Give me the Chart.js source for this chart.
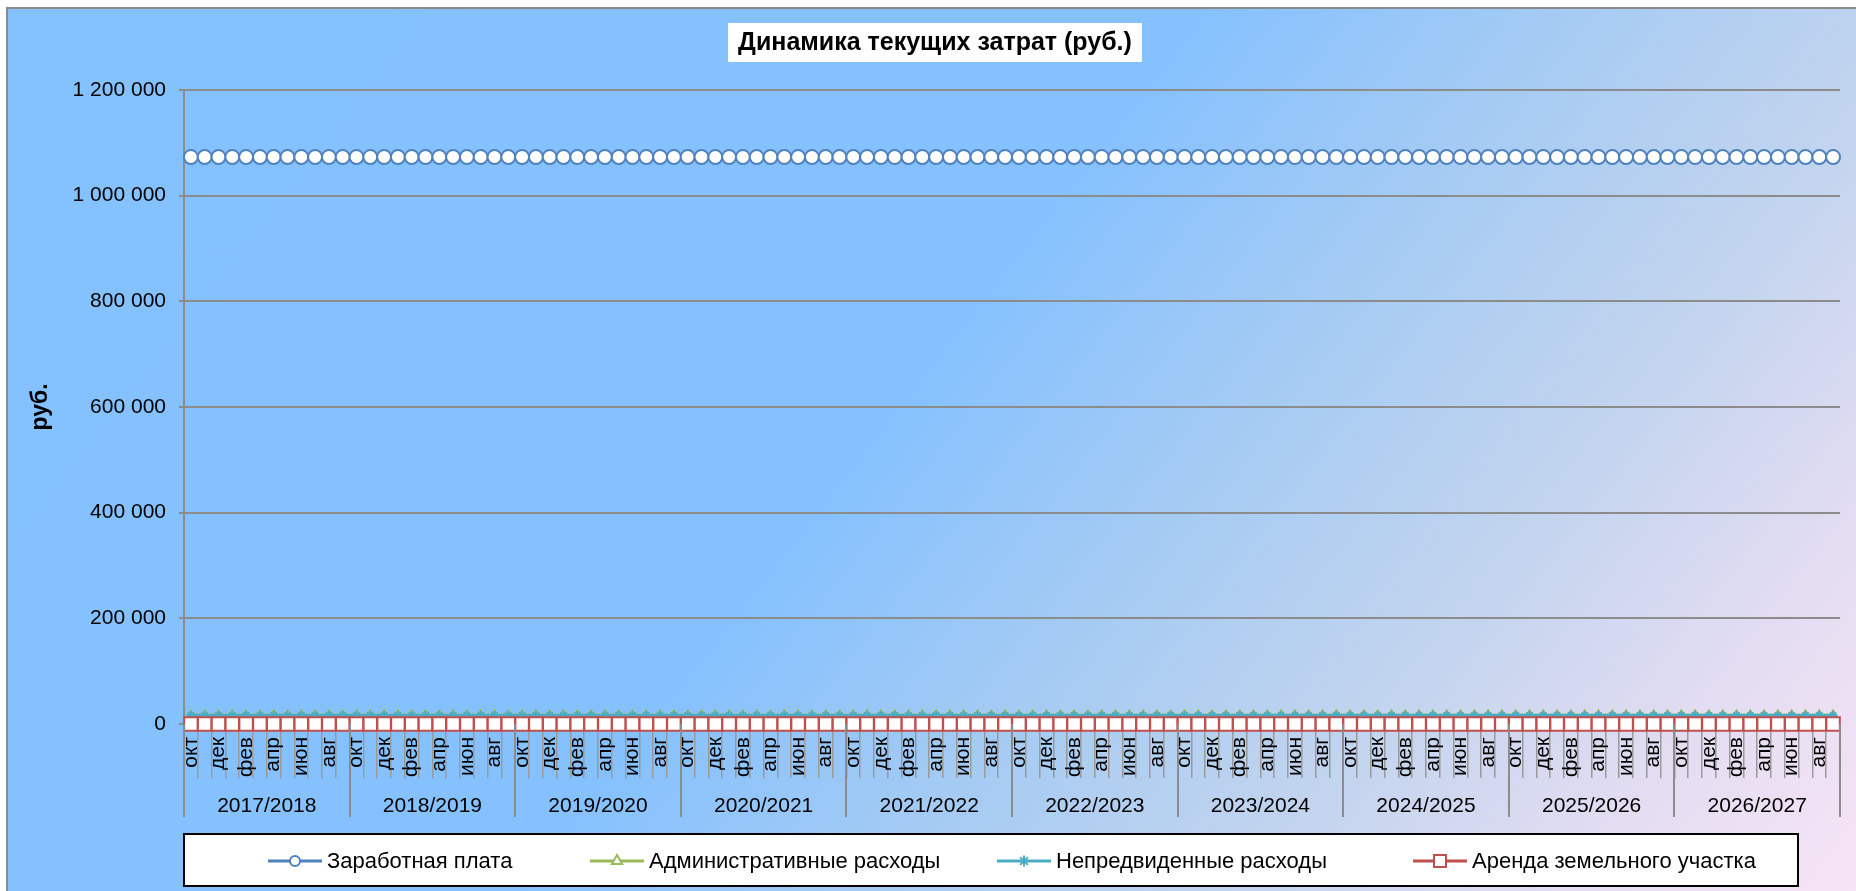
<!DOCTYPE html>
<html><head><meta charset="utf-8">
<script src="https://cdn.jsdelivr.net/npm/chart.js@4.4.0/dist/chart.umd.min.js"></script>
<style>
html,body{margin:0;padding:0;background:#fff;overflow:hidden;width:1856px;height:891px;}
#bg{position:absolute;left:6px;top:7px;width:1880px;height:920px;border:2px solid #8a8a8a;
 background:linear-gradient(128deg,#84c1ff 0%,#85c1fe 46%,#a5cbf3 60%,#c2d4ee 74%,#e4ddf2 87%,#fbe5f6 100%);}
#wrap{position:absolute;left:0;top:0;width:1856px;height:891px;}
</style></head><body>
<div id="bg"></div>
<div id="wrap"><canvas id="c" width="1856" height="891"></canvas></div>
<script>
const chartTitle = 'Динамика текущих затрат (руб.)';
const yAxisTitle = 'руб.';
const monthNames = ['окт','ноя','дек','янв','фев','мар','апр','май','июн','июл','авг','сен'];
const years = ['2017/2018','2018/2019','2019/2020','2020/2021','2021/2022','2022/2023','2023/2024','2024/2025','2025/2026','2026/2027'];
const seriesNames = ['Заработная плата','Административные расходы','Непредвиденные расходы','Аренда земельного участка'];
const yTicks = [0,200000,400000,600000,800000,1000000,1200000];

const salary = [
1073000,1073000,1073000,1073000,1073000,1073000,1073000,1073000,1073000,1073000,1073000,1073000,
1073000,1073000,1073000,1073000,1073000,1073000,1073000,1073000,1073000,1073000,1073000,1073000,
1073000,1073000,1073000,1073000,1073000,1073000,1073000,1073000,1073000,1073000,1073000,1073000,
1073000,1073000,1073000,1073000,1073000,1073000,1073000,1073000,1073000,1073000,1073000,1073000,
1073000,1073000,1073000,1073000,1073000,1073000,1073000,1073000,1073000,1073000,1073000,1073000,
1073000,1073000,1073000,1073000,1073000,1073000,1073000,1073000,1073000,1073000,1073000,1073000,
1073000,1073000,1073000,1073000,1073000,1073000,1073000,1073000,1073000,1073000,1073000,1073000,
1073000,1073000,1073000,1073000,1073000,1073000,1073000,1073000,1073000,1073000,1073000,1073000,
1073000,1073000,1073000,1073000,1073000,1073000,1073000,1073000,1073000,1073000,1073000,1073000,
1073000,1073000,1073000,1073000,1073000,1073000,1073000,1073000,1073000,1073000,1073000,1073000];
const admin = [
17000,17000,17000,17000,17000,17000,17000,17000,17000,17000,17000,17000,
17000,17000,17000,17000,17000,17000,17000,17000,17000,17000,17000,17000,
17000,17000,17000,17000,17000,17000,17000,17000,17000,17000,17000,17000,
17000,17000,17000,17000,17000,17000,17000,17000,17000,17000,17000,17000,
17000,17000,17000,17000,17000,17000,17000,17000,17000,17000,17000,17000,
17000,17000,17000,17000,17000,17000,17000,17000,17000,17000,17000,17000,
17000,17000,17000,17000,17000,17000,17000,17000,17000,17000,17000,17000,
17000,17000,17000,17000,17000,17000,17000,17000,17000,17000,17000,17000,
17000,17000,17000,17000,17000,17000,17000,17000,17000,17000,17000,17000,
17000,17000,17000,17000,17000,17000,17000,17000,17000,17000,17000,17000];
const unforeseen = [
16000,16000,16000,16000,16000,16000,16000,16000,16000,16000,16000,16000,
16000,16000,16000,16000,16000,16000,16000,16000,16000,16000,16000,16000,
16000,16000,16000,16000,16000,16000,16000,16000,16000,16000,16000,16000,
16000,16000,16000,16000,16000,16000,16000,16000,16000,16000,16000,16000,
16000,16000,16000,16000,16000,16000,16000,16000,16000,16000,16000,16000,
16000,16000,16000,16000,16000,16000,16000,16000,16000,16000,16000,16000,
16000,16000,16000,16000,16000,16000,16000,16000,16000,16000,16000,16000,
16000,16000,16000,16000,16000,16000,16000,16000,16000,16000,16000,16000,
16000,16000,16000,16000,16000,16000,16000,16000,16000,16000,16000,16000,
16000,16000,16000,16000,16000,16000,16000,16000,16000,16000,16000,16000];
const rent = [
0,0,0,0,0,0,0,0,0,0,0,0,
0,0,0,0,0,0,0,0,0,0,0,0,
0,0,0,0,0,0,0,0,0,0,0,0,
0,0,0,0,0,0,0,0,0,0,0,0,
0,0,0,0,0,0,0,0,0,0,0,0,
0,0,0,0,0,0,0,0,0,0,0,0,
0,0,0,0,0,0,0,0,0,0,0,0,
0,0,0,0,0,0,0,0,0,0,0,0,
0,0,0,0,0,0,0,0,0,0,0,0,
0,0,0,0,0,0,0,0,0,0,0,0];

const categories = [];
years.forEach(() => monthNames.forEach(m => categories.push(m)));

const FONT = '"Liberation Sans", Arial, sans-serif';
Chart.defaults.font.family = FONT;
Chart.defaults.color = '#000';

const styles = [
  {color:'#4f81bd', pointStyle:'circle', radius:7, lr:5},
  {color:'#9bbb59', pointStyle:'triangle', radius:4.5, lr:6},
  {color:'#4bacc6', pointStyle:'star', radius:4.5, lr:5.5},
  {color:'#c0504d', pointStyle:'rect', radius:9.5, lr:8.5}
];
const seriesData = [salary, admin, unforeseen, rent];

const fmt = v => String(v).replace(/\B(?=(\d{3})+(?!\d))/g, ' ');

const decor = {
  id: 'decor',
  afterDraw(chart) {
    const ctx = chart.ctx, xs = chart.scales.x, ca = chart.chartArea;
    const half = (xs.getPixelForValue(1) - xs.getPixelForValue(0)) / 2;
    ctx.save();
    // year separators
    ctx.strokeStyle = '#8c8c8c'; ctx.lineWidth = 2;
    for (let i = 0; i <= years.length; i++) {
      const x = Math.round(i < years.length ? xs.getPixelForValue(i*12) - half : xs.getPixelForValue(categories.length-1) + half);
      ctx.beginPath(); ctx.moveTo(x, ca.bottom); ctx.lineTo(x, 817); ctx.stroke();
    }
    ctx.fillStyle = '#000'; ctx.font = '21px ' + FONT;
    ctx.textAlign = 'center'; ctx.textBaseline = 'middle';
    years.forEach((y, i) => {
      const x = (xs.getPixelForValue(i*12) + xs.getPixelForValue(i*12+11)) / 2;
      ctx.fillText(y, x, 806);
    });
    // title
    ctx.font = 'bold 25px ' + FONT;
    const tw = ctx.measureText(chartTitle).width;
    const tcx = 935;
    ctx.fillStyle = '#fff';
    ctx.fillRect(tcx - tw/2 - 10, 23, tw + 20, 39);
    ctx.fillStyle = '#000';
    ctx.fillText(chartTitle, tcx, 43);
    // legend
    ctx.fillStyle = '#fff';
    ctx.fillRect(184, 834, 1614, 52);
    ctx.strokeStyle = '#000'; ctx.lineWidth = 2;
    ctx.strokeRect(184, 834, 1614, 52);
    const starts = [268, 590, 997, 1413];
    ctx.font = '22px ' + FONT; ctx.textAlign = 'left';
    seriesNames.forEach((name, i) => {
      const s = styles[i], x0 = starts[i], ly = 861;
      ctx.strokeStyle = s.color; ctx.lineWidth = 3;
      ctx.beginPath(); ctx.moveTo(x0, ly); ctx.lineTo(x0 + 54, ly); ctx.stroke();
      ctx.fillStyle = '#fff'; ctx.lineWidth = 2;
      Chart.helpers.drawPoint(ctx, {pointStyle: s.pointStyle, radius: s.lr, borderWidth: 2, rotation: 0}, x0 + 27, ly);
      ctx.fillStyle = '#000';
      ctx.fillText(name, x0 + 59, ly + 1);
    });
    ctx.restore();
  }
};

new Chart(document.getElementById('c'), {
  type: 'line',
  data: {
    labels: categories,
    datasets: seriesNames.map((name, i) => ({
      label: name,
      data: seriesData[i],
      borderColor: styles[i].color,
      backgroundColor: '#fff',
      borderWidth: 3,
      pointStyle: styles[i].pointStyle,
      pointRadius: styles[i].radius,
      pointBorderWidth: 2,
      pointBorderColor: styles[i].color,
      pointBackgroundColor: '#fff',
      clip: false,
      order: 4 - i,
      tension: 0
    }))
  },
  options: {
    responsive: false,
    devicePixelRatio: 1,
    animation: false,
    layout: {padding: {left: 0, top: 90, right: 16, bottom: 0}},
    plugins: {legend: {display: false}, title: {display: false}, tooltip: {enabled: false}},
    scales: {
      x: {
        offset: true,
        grid: {display: true, drawOnChartArea: false, drawTicks: true, tickLength: 54, color: '#9a9a9a', lineWidth: 1.5, offset: true},
        border: {display: false},
        ticks: {autoSkip: false, maxRotation: 90, minRotation: 90, padding: -41, color: '#000',
          font: {size: 21}, callback: (v, i) => (i % 2 === 0 ? categories[i] : '')},
        afterFit(s) { s.height = 167; }
      },
      y: {
        min: 0, max: 1200000,
        afterBuildTicks(s) { s.ticks = yTicks.map(v => ({value: v})); },
        ticks: {padding: 13, color: '#000', font: {size: 21}, callback: v => fmt(v)},
        grid: {color: '#8c8c8c', lineWidth: 2, tickLength: 5},
        border: {color: '#8c8c8c', width: 2},
        title: {display: true, text: yAxisTitle, color: '#000', font: {size: 23, weight: 'bold'}, padding: {top: 27, bottom: 0}},
        afterFit(s) { s.width = 184; }
      }
    }
  },
  plugins: [decor]
});
</script>
</body></html>
